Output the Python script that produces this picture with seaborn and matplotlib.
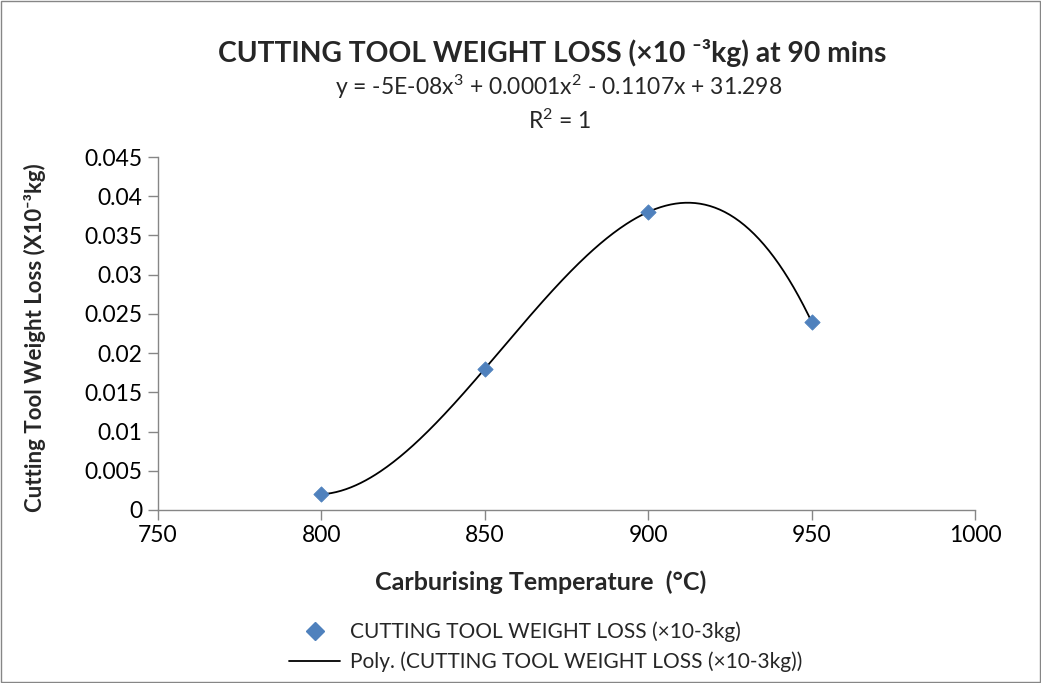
import numpy as np
import pandas as pd
import matplotlib
matplotlib.use("Agg")
import matplotlib.pyplot as plt
import seaborn as sns
from matplotlib.lines import Line2D

# data
temperature = [800, 850, 900, 950]
weight_loss = [0.002, 0.018, 0.038, 0.024]
y_ticks = [0, 0.005, 0.01, 0.015, 0.02, 0.025, 0.03, 0.035, 0.04, 0.045]
y_tick_labels = ["0", "0.005", "0.01", "0.015", "0.02", "0.025", "0.03", "0.035", "0.04", "0.045"]
x_ticks = [750, 800, 850, 900, 950, 1000]

df = pd.DataFrame({"temp": temperature, "loss": weight_loss})

sns.set_theme(style="white")
plt.rcParams["font.family"] = ["Lato", "DejaVu Sans"]
plt.rcParams["mathtext.fontset"] = "custom"
plt.rcParams["mathtext.rm"] = "Lato"
plt.rcParams["mathtext.it"] = "Lato"
plt.rcParams["mathtext.bf"] = "Lato:bold"

fig = plt.figure(figsize=(10.41, 6.83), dpi=100)
ax = fig.add_axes([0.1518, 0.2533, 0.7848, 0.5168])

# cubic trendline (like Excel's poly order 3)
coef = np.polyfit(df["temp"], df["loss"], 3)
xs = np.linspace(min(temperature), max(temperature), 300)
ax.plot(xs, np.polyval(coef, xs), color="black", lw=1.3, zorder=2)

sns.scatterplot(data=df, x="temp", y="loss", marker="D", s=60, color="#4F81BD",
                edgecolor="#4F81BD", ax=ax, zorder=3)

ax.set_xlim(750, 1000)
ax.set_ylim(0, 0.045)
ax.set_xticks(x_ticks)
ax.set_yticks(y_ticks)
ax.set_yticklabels(y_tick_labels)
ax.tick_params(axis="both", labelsize=16.5, length=7, width=1, color="#868686",
               direction="out", left=True, bottom=True, pad=4, labelcolor="black")
for s in ["top", "right"]:
    ax.spines[s].set_visible(False)
for s in ["left", "bottom"]:
    ax.spines[s].set_color("#868686")
    ax.spines[s].set_linewidth(1)

ax.set_xlabel("Carburising Temperature  (°C)", fontsize=18, fontweight="bold")
ax.xaxis.set_label_coords(0.468, -0.204)
ax.xaxis.label.set_va("center")
ax.set_ylabel("Cutting Tool Weight Loss (X10⁻³kg)", fontsize=16, fontweight="bold")
ax.yaxis.set_label_coords(-0.151, 0.487)
ax.yaxis.label.set_va("center")

fig.text(0.530, 0.922, "CUTTING TOOL WEIGHT LOSS (×10 ⁻³kg) at 90 mins",
         ha="center", va="center", fontsize=20.3, fontweight="bold")
fig.text(0.537, 0.873, r"y = -5E-08x$^{3}$ + 0.0001x$^{2}$ - 0.1107x + 31.298",
         ha="center", va="center", fontsize=16.5)
fig.text(0.537, 0.823, r"R$^{2}$ = 1", ha="center", va="center", fontsize=16.5)

handles = [
    Line2D([], [], marker="D", ls="none", color="#4F81BD", markersize=9),
    Line2D([], [], color="black", lw=1.3),
]
labels = ["CUTTING TOOL WEIGHT LOSS (×10-3kg)",
          "Poly. (CUTTING TOOL WEIGHT LOSS (×10-3kg))"]
fig.legend(handles, labels, loc="center", bbox_to_anchor=(0.524, 0.053), frameon=False,
           fontsize=15, handlelength=2.45, handletextpad=0.45, labelspacing=0.45,
           borderpad=0)

# thin frame around the whole chart
fig.patches.append(plt.Rectangle((0.001, 0.001), 0.998, 0.998, transform=fig.transFigure,
                                 fill=False, edgecolor="#868686", lw=1))

fig.savefig("out.png", dpi=100)
